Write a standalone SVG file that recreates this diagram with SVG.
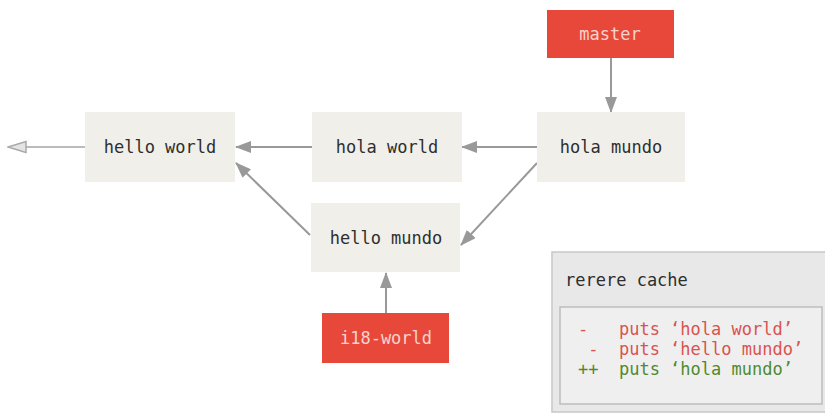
<svg xmlns="http://www.w3.org/2000/svg" width="825" height="415" viewBox="0 0 825 415">
<defs>
<marker id="ah" markerUnits="userSpaceOnUse" markerWidth="16" markerHeight="12" viewBox="0 0 16 12" refX="15" refY="6" orient="auto">
<path d="M0,0 L16,6 L0,12 Z" fill="#999"/>
</marker>
<marker id="ah2" markerUnits="userSpaceOnUse" markerWidth="20" markerHeight="14" viewBox="0 0 20 14" refX="19" refY="7" orient="auto">
<path d="M1,1.5 L19,7 L1,12.5 Z" fill="#e4e4e4" stroke="#aaa" stroke-width="1.5"/>
</marker>
<style>
.n{fill:#f0efea}
.r{fill:#e8483a}
.t{font-family:"DejaVu Sans Mono","Liberation Mono",monospace;font-size:17px;text-anchor:middle;dominant-baseline:central;fill:#2e2e2e}
.w{fill:#f7d3cc}
.e{stroke:#999;stroke-width:2;fill:none;marker-end:url(#ah)}
.c{font-family:"DejaVu Sans Mono","Liberation Mono",monospace;font-size:17px;white-space:pre}
</style>
</defs>
<g id="connectors">
<line class="e" x1="85" y1="147" x2="8" y2="147" style="stroke:#bbb;marker-end:url(#ah2)"/>
<line class="e" x1="312" y1="147" x2="236" y2="147"/>
<line class="e" x1="537" y1="147" x2="462" y2="147"/>
<line class="e" x1="310" y1="235" x2="236" y2="163"/>
<line class="e" x1="537" y1="163" x2="461" y2="245"/>
<line class="e" x1="611" y1="58" x2="611" y2="112"/>
<line class="e" x1="386" y1="313" x2="386" y2="273"/>
</g>
<g id="hello-world"><rect class="n" x="85" y="112" width="150" height="70"/><text class="t" x="160" y="147">hello world</text></g>
<g id="hola-world"><rect class="n" x="312" y="112" width="150" height="70"/><text class="t" x="387" y="147">hola world</text></g>
<g id="hola-mundo"><rect class="n" x="537" y="112" width="148" height="70"/><text class="t" x="611" y="147">hola mundo</text></g>
<g id="hello-mundo"><rect class="n" x="311" y="203" width="149" height="69"/><text class="t" x="386" y="238">hello mundo</text></g>
<g id="master"><rect class="r" x="547" y="10" width="127" height="48"/><text class="t w" x="610" y="34">master</text></g>
<g id="i18-world"><rect class="r" x="322" y="313" width="127" height="50"/><text class="t w" x="386" y="338">i18-world</text></g>
<g id="rerere-cache">
<rect x="552" y="252" width="280" height="160" fill="#e8e8e8" stroke="#c8c8c8" stroke-width="1.5"/>
<text class="c" x="565" y="286" fill="#2e2e2e">rerere cache</text>
<rect x="560" y="307" width="262" height="97" fill="#efefef" stroke="#bdbdbd" stroke-width="1.5"/>
<text class="c" x="578" y="335" fill="#d9534f">-   puts ‘hola world’</text>
<text class="c" x="578" y="355" fill="#d9534f"> -  puts ‘hello mundo’</text>
<text class="c" x="578" y="375" fill="#4f8a2e">++  puts ‘hola mundo’</text>
</g>
</svg>
